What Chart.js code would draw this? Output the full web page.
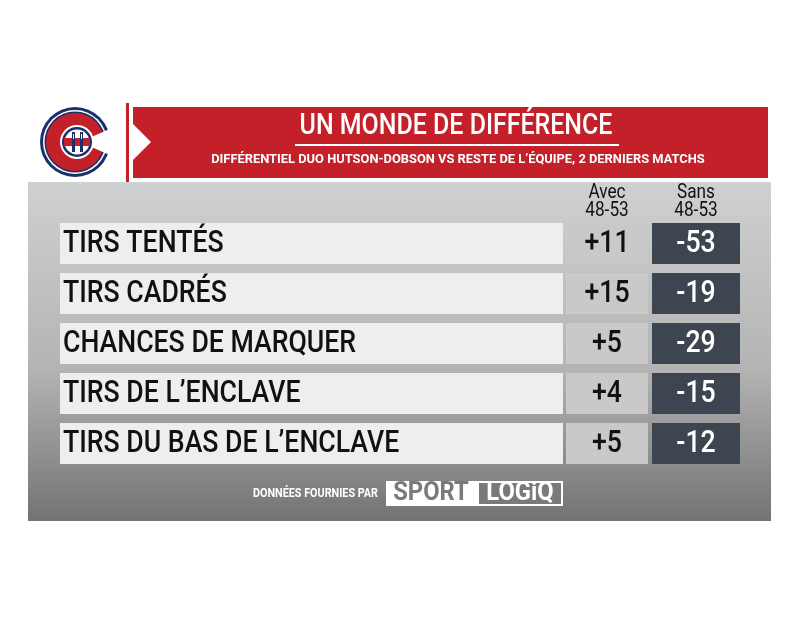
<!DOCTYPE html>
<html><head><meta charset="utf-8">
<script src="https://cdn.jsdelivr.net/npm/chart.js@4"></script>
<style>html,body{margin:0;padding:0;background:#fff;}#c{display:block;}</style>
</head><body>
<canvas id="c" width="800" height="626"></canvas>
<script>
const title = "UN MONDE DE DIFFÉRENCE";
const subtitle = "DIFFÉRENTIEL DUO HUTSON-DOBSON VS RESTE DE L’ÉQUIPE, 2 DERNIERS MATCHS";
const categories = ["TIRS TENTÉS","TIRS CADRÉS","CHANCES DE MARQUER","TIRS DE L’ENCLAVE","TIRS DU BAS DE L’ENCLAVE"];
const avecValues = [11,15,5,4,5];
const sansValues = [-53,-19,-29,-15,-12];
const columnHeaders = [["Avec","48-53"],["Sans","48-53"]];
const FONT = 'Roboto, sans-serif';
const fmt = v => (v > 0 ? "+" : "") + v;

function txt(ctx, s, x, y, sx, align) {
  ctx.save(); ctx.translate(x, y); ctx.scale(sx, 1); ctx.textAlign = align; ctx.fillText(s, 0, 0); ctx.restore();
}

const painter = {
  id: 'painter',
  beforeDraw(chart) {
    const ctx = chart.ctx;
    ctx.save();
    const g = ctx.createLinearGradient(0,182,0,521);
    g.addColorStop(0,'#cfd0d0'); g.addColorStop(0.55,'#b4b4b4'); g.addColorStop(1,'#737373');
    ctx.fillStyle = g; ctx.fillRect(28,182,743,339);
    ctx.fillStyle = '#ffffff'; ctx.fillRect(28,103,743,79);
    ctx.fillStyle = '#c4202a'; ctx.fillRect(126,103,3,79);
    ctx.beginPath(); ctx.moveTo(133,107); ctx.lineTo(768,107); ctx.lineTo(768,178); ctx.lineTo(133,178);
    ctx.lineTo(133,160); ctx.lineTo(151,142); ctx.lineTo(133,124); ctx.closePath(); ctx.fill();
    ctx.fillStyle = '#fff'; ctx.textBaseline='middle';
    ctx.font = '500 29px ' + FONT; txt(ctx, title, 456, 127, 0.86, 'center');
    ctx.fillRect(295,144,324,2);
    ctx.font = 'bold 13px ' + FONT; txt(ctx, subtitle, 458, 160, 0.99, 'center');
    // logo
    ctx.fillStyle = '#1c2f6b'; ctx.beginPath(); ctx.arc(75,142,35,0,Math.PI*2); ctx.fill();
    ctx.fillStyle = '#fff'; ctx.beginPath(); ctx.arc(75,142,32,0,Math.PI*2); ctx.fill();
    ctx.fillStyle = '#1c2f6b'; ctx.beginPath(); ctx.arc(75,142,30.5,0,Math.PI*2); ctx.fill();
    ctx.fillStyle = '#c4202a'; ctx.beginPath(); ctx.arc(75,142,29,0,Math.PI*2); ctx.fill();
    ctx.fillStyle = '#fff'; ctx.beginPath(); ctx.arc(77,142,17,0,Math.PI*2); ctx.fill();
    ctx.beginPath(); ctx.moveTo(80,142); ctx.lineTo(112,128); ctx.lineTo(112,156); ctx.closePath(); ctx.fill();
    ctx.fillStyle = '#1c2f6b'; ctx.beginPath(); ctx.arc(77,142,15,0,Math.PI*2); ctx.fill();
    ctx.fillStyle = '#fff'; ctx.beginPath(); ctx.arc(77,142,12.5,0,Math.PI*2); ctx.fill();
    ctx.fillStyle = '#c4202a'; ctx.fillRect(64,138,26,8);
    ctx.fillStyle = '#1c2f6b'; ctx.fillRect(72,132,3,20); ctx.fillRect(80,132,3,20);
    ctx.fillStyle = '#fff'; ctx.fillRect(73,134,1,5); ctx.fillRect(81,134,1,5);
    // column headers
    ctx.fillStyle = '#111'; ctx.font = '21px ' + FONT;
    [607,696].forEach((x,i)=>{ txt(ctx,columnHeaders[i][0],x,193,0.82,'center'); txt(ctx,columnHeaders[i][1],x,211,0.82,'center'); });
    const ys = chart.scales.y;
    categories.forEach((c,i)=>{
      const yc = ys.getPixelForValue(i);
      const top = yc-20, h = 41;
      ctx.fillStyle = '#eeeeee'; ctx.fillRect(60,top,503,h);
      ctx.fillStyle = '#c9c9c9'; ctx.fillRect(566,top,82,h);
      ctx.fillStyle = '#3d4550'; ctx.fillRect(652,top,88,h);
      ctx.fillStyle = '#111'; ctx.font = '500 31px ' + FONT;
      txt(ctx, c, 63, yc+1, 0.86, 'left');
      txt(ctx, fmt(avecValues[i]), 607, yc+1, 0.86, 'center');
      ctx.fillStyle = '#fff'; txt(ctx, fmt(sansValues[i]), 696, yc+1, 0.86, 'center');
    });
    // footer
    ctx.fillStyle = '#fff'; ctx.font = 'bold 12px ' + FONT;
    txt(ctx, "DONNÉES FOURNIES PAR", 378, 494, 0.9, 'right');
    ctx.fillStyle = '#ffffff'; ctx.fillRect(386,481,177,25);
    ctx.fillStyle = '#7a7a7a'; ctx.fillRect(479,483,82,21);
    ctx.font = 'bold 25px ' + FONT;
    ctx.fillStyle = '#7a7a7a'; txt(ctx, "SPORT", 431, 494, 0.95, 'center');
    ctx.fillStyle = '#ffffff'; txt(ctx, "LOGiQ", 520, 494, 0.95, 'center');
    ctx.restore();
  }
};

new Chart(document.getElementById('c'), {
  type: 'bar',
  data: { labels: categories, datasets: [{ data: avecValues, backgroundColor: 'rgba(0,0,0,0)' }] },
  options: {
    indexAxis: 'y', responsive: false, animation: false,
    layout: { padding: { left: 60, right: 60, top: 218, bottom: 158 } },
    plugins: { legend: { display: false }, tooltip: { enabled: false } },
    scales: { x: { display: false }, y: { display: false } }
  },
  plugins: [painter]
});
</script>
</body></html>
